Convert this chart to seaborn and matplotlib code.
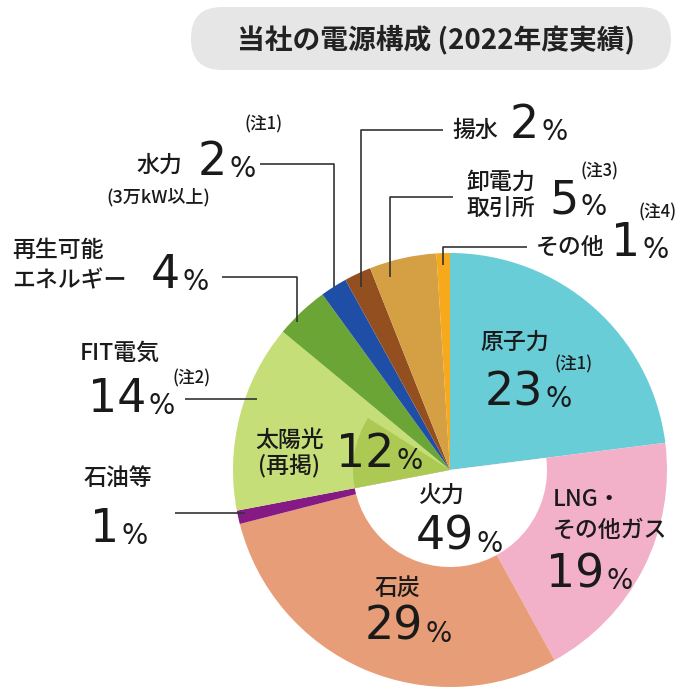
import matplotlib
matplotlib.use("Agg")
import matplotlib.pyplot as plt
from matplotlib.patches import FancyBboxPatch
import seaborn as sns

# ---------------- data ----------------
categories = ["原子力", "LNG・その他ガス", "石炭", "石油等", "FIT電気",
              "再生可能エネルギー", "水力", "揚水", "卸電力取引所", "その他"]
shares = [23, 19, 29, 1, 14, 4, 2, 2, 5, 1]
thermal = ["LNG・その他ガス", "石炭", "石油等"]
solar_share = 12          # 太陽光（再掲）, part of FIT電気
title = "当社の電源構成 (2022年度実績)"

palette = ["#69cdd8", "#f2b1c8", "#e79d77", "#851a84", "#c5de77",
           "#6ba535", "#1f4ea7", "#934f1f", "#d5a043", "#f5a91b"]
solar_color = "#abc953"

# ---------------- setup ----------------
sns.set_theme(style="white")
plt.rcParams["font.family"] = ["Noto Sans CJK JP", "DejaVu Sans"]

fig = plt.figure(figsize=(7, 7), dpi=100)
ax = fig.add_axes([0, 0, 1, 1])

H = 700
def P(y):  # pixel-y (top-down) to data-y
    return H - y

cx, cy, R = 450, P(470), 217
r_in = 97

ax.pie(shares, colors=palette, startangle=90, counterclock=False,
       radius=R, center=(cx, cy), wedgeprops=dict(linewidth=0))

# inner ring: white hole for thermal, darker green for solar
fossil_total = sum(v for c, v in zip(categories, shares) if c in thermal)
nuclear = shares[0]
rest = 100 - nuclear - fossil_total - solar_share
inner_vals = [nuclear, fossil_total, solar_share, rest]
inner_cols = [(0, 0, 0, 0), "white", solar_color, (0, 0, 0, 0)]
ax.pie(inner_vals, colors=inner_cols, startangle=90, counterclock=False,
       radius=r_in, center=(cx, cy), wedgeprops=dict(linewidth=0))

ax.set_xlim(0, 700)
ax.set_ylim(0, 700)
ax.set_aspect("equal")
ax.axis("off")

# ---------------- title ----------------
box = FancyBboxPatch((191, P(70)), 480, 63,
                     boxstyle="round,pad=0,rounding_size=31",
                     fc="#e6e6e6", ec="none")
ax.add_patch(box)
ax.text(436, P(40), title, ha="center", va="center", fontsize=20,
        fontweight="bold", color="#222222")

TXT = "#1a1a1a"
LAB = 16.5
NUM = 33
PCT = 20
NOTE = 12
NUMFONT = ["DejaVu Sans"]

def label(x, y, s, size=LAB, ha="left", va="center", weight="medium"):
    ax.text(x, P(y), s, fontsize=size, ha=ha, va=va, color=TXT,
            fontweight=weight, linespacing=1.05)

def value(x, base, v, size=NUM, psize=PCT):
    t = ax.text(x, P(base), str(v), fontsize=size, ha="left", va="baseline",
                color=TXT, family=NUMFONT)
    ax.annotate("%", xy=(1, 0), xycoords=t, xytext=(1.5, 1.6),
                textcoords="offset points", fontsize=psize, ha="left",
                va="bottom", color=TXT, family=NUMFONT)

def leader(pts):
    xs = [p[0] for p in pts]
    ys = [P(p[1]) for p in pts]
    ax.plot(xs, ys, color="#333333", lw=1.2, solid_capstyle="butt")

v = dict(zip(categories, shares))

# ---------------- outside labels ----------------
# 揚水
label(452, 130, "揚水")
value(510, 138, v["揚水"])
leader([(443, 130), (361, 130), (361, 287)])

# 卸電力取引所
label(466, 182, "卸電力")
label(466, 208, "取引所")
value(549, 213, v["卸電力取引所"])
label(581, 171, "(注3)", size=NOTE)
leader([(453, 197), (390, 197), (390, 277)])

# その他
label(536, 247, "その他")
value(611, 256, v["その他"])
label(638, 212, "(注4)", size=NOTE)
leader([(527, 247), (443, 247), (443, 265)])

# 水力
label(136, 165, "水力")
value(198, 175, v["水力"])
label(244, 124, "(注1)", size=NOTE)
label(106, 197, "(3万kW以上)", size=13)
leader([(260, 164), (334, 164), (334, 287)])

# 再生可能エネルギー
label(12, 250, "再生可能")
label(12, 281, "エネルギー")
value(151, 288, v["再生可能エネルギー"])
leader([(222, 277), (297, 277), (297, 322)])

# FIT電気
label(80, 353, "FIT電気")
value(88, 412, v["FIT電気"])
label(173, 378, "(注2)", size=NOTE)
leader([(185, 399), (257, 399)])

# 石油等
label(84, 478, "石油等")
value(90, 542, v["石油等"])
leader([(175, 513), (245, 513)])

# ---------------- inside labels ----------------
label(480, 342, "原子力")
label(554, 364, "(注1)", size=NOTE)
value(485, 405, v["原子力"])

label(553, 500, "LNG・")
label(553, 530, "その他ガス")
value(546, 587, v["LNG・その他ガス"])

label(418, 495, "火力")
value(416, 550, fossil_total)

label(375, 588, "石炭")
value(365, 640, v["石炭"])

label(255, 440, "太陽光")
label(258, 465, "(再掲)")
value(336, 467, solar_share)

fig.savefig("out.png", dpi=100)
